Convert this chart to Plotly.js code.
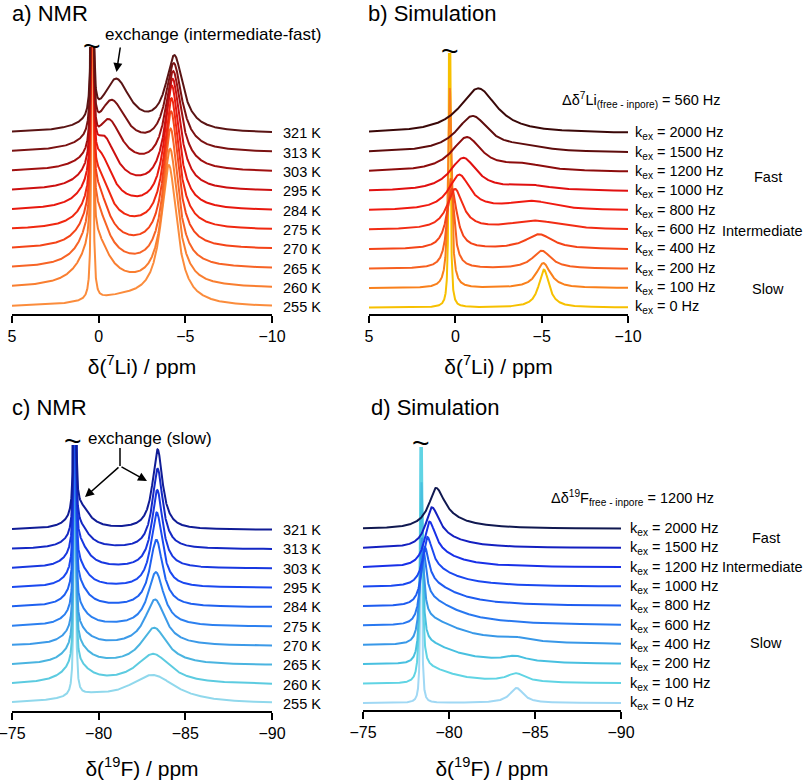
<!DOCTYPE html>
<html>
<head>
<meta charset="utf-8">
<script src="https://cdn.plot.ly/plotly-3.0.1.min.js"></script>
<style>html,body{margin:0;padding:0;background:#fff;}#chart{width:807px;height:780px;}</style>
</head>
<body>
<div id="chart"></div>
<script>
// ---------------- DATA (traces listed top to bottom) ----------------
// Panel a: 7Li NMR, peaks: free (sharp), exchange, in-pore. Heights in stack units (px).
const A_labels   = ['321 K','313 K','303 K','295 K','284 K','275 K','270 K','265 K','260 K','255 K'];
const A_free_pos = [0.37,0.37,0.37,0.37,0.37,0.37,0.37,0.37,0.37,0.37];
const A_free_h   = [600,600,600,600,600,600,600,600,600,600];
const A_free_w   = [0.08,0.08,0.08,0.08,0.08,0.08,0.08,0.08,0.08,0.08];
const A_ex_pos   = [-1.0,-0.75,-0.56,-0.27,-0.08,0.02,0.1,0.15,0.2,-1.5];
const A_ex_h     = [52,50,50,52,53,54,58,58,50,9];
const A_ex_w     = [2.0,2.0,1.9,1.8,1.7,1.6,1.6,1.7,1.9,5.0];
const A_pore_pos = [-4.37,-4.33,-4.3,-4.27,-4.22,-4.2,-4.18,-4.15,-4.12,-4.05];
const A_pore_h   = [74,86,98,110,123,130,136,138,137,138];
const A_pore_w   = [1.2,1.15,1.1,1.05,1.0,1.0,1.0,1.0,1.05,1.1];

// Panel b: 7Li simulation, k_ex values (Hz)
const B_kex      = [2000,1500,1200,1000,800,600,400,200,100,0];
const B_m_pos    = [-1.33,-1.0,-0.66,-0.46,-0.23,0.02,0.2,0.28,0.32,0.33];
const B_m_h      = [45,36,34,33,35,40,60,90,200,500];
const B_m_w      = [2.6,2.3,2.1,1.9,1.5,1.1,0.7,0.45,0.22,0.08];
const B_p_pos    = [-4.0,-4.0,-4.0,-4.3,-4.4,-4.6,-4.85,-5.0,-5.1,-5.13];
const B_p_h      = [0,4,6,5,9,9,15,18,25,38];
const B_p_w      = [3.0,3.0,3.0,3.0,3.2,3.6,1.9,1.3,1.0,0.72];

// Panel c: 19F NMR
const C_labels   = ['321 K','313 K','303 K','295 K','284 K','275 K','270 K','265 K','260 K','255 K'];
const C_free_pos = [-78.62,-78.62,-78.62,-78.62,-78.62,-78.62,-78.62,-78.62,-78.62,-78.62];
const C_free_h   = [600,600,600,600,600,600,600,600,600,600];
const C_free_w   = [0.07,0.07,0.07,0.07,0.07,0.07,0.07,0.07,0.07,0.07];
const C_ex_pos   = [-78.95,-78.9,-78.85,-78.8,-78.78,-78.75,-78.72,-78.7,-78.7,-79.3];
const C_ex_h     = [22,22,25,23,23,19,18,20,19,6];
const C_ex_w     = [1.3,1.3,1.3,1.3,1.3,1.4,1.5,1.6,1.8,3.5];
const C_pore_pos = [-83.4,-83.4,-83.38,-83.35,-83.33,-83.3,-83.25,-83.2,-83.15,-83.1];
const C_pore_h   = [80,80,78,75,67,54,46,37,30,28];
const C_pore_w   = [0.7,0.72,0.75,0.8,0.9,1.1,1.4,1.8,2.4,3.3];

// Panel d: 19F simulation; main line, its upfield tail, in-pore line
const D_kex      = [2000,1500,1200,1000,800,600,400,200,100,0];
const D_m_pos    = [-79.24,-79.0,-78.86,-78.74,-78.6,-78.5,-78.42,-78.4,-78.38,-78.38];
const D_m_h      = [31,29,31,32,36,50,80,160,320,550];
const D_m_w      = [1.2,1.0,0.85,0.7,0.55,0.4,0.28,0.18,0.12,0.06];
const D_t_h      = [10,12,15,18,23,27,27,22,17,0];
const D_t_wl     = [0.6,0.6,0.5,0.5,0.4,0.4,0.3,0.25,0.2,0.2];
const D_t_wr     = [3.6,3.6,3.6,3.8,4.0,4.4,5.0,4.4,4.0,4.0];
const D_p_pos    = [-83.9,-83.9,-83.9,-83.9,-83.9,-83.9,-83.75,-83.85,-83.9,-83.93];
const D_p_h      = [0,0,0,0,0,0,3.5,5.5,8.5,15];
const D_p_w      = [1,1,1,1,1,1,2.0,1.6,1.3,0.95];

const A_colors = ['#5a1414','#7a1212','#a01010','#cc1010','#e8180e','#f02810','#f44418','#f76426','#f97e30','#fb8c3c'];
const B_colors = ['#3a0808','#5e0c0c','#8c0c0c','#e01010','#f01a10','#f22c14','#f44418','#f76020','#f9801c','#f7c000'];
const C_colors = ['#101c96','#1428c4','#1838e0','#1a48f0','#1e60f0','#2c80f0','#3c9ae8','#4ab4e0','#5ccbe0','#90d8ec'];
const D_colors = ['#101850','#1420c0','#1830e8','#1a48f0','#1e5cf0','#2878f0','#3898e8','#48c0e0','#60d4e4','#a0d8f4'];

// ---------------- helpers ----------------
const W = 807, H = 780;
const FONT = 'Liberation Sans, Arial, Helvetica, sans-serif';
const fx = p => p / W;
const fy = p => 1 - p / H;
const STEP = 19.35;

// Lorentzian line, optionally with different widths on the downfield (x>pos) and upfield (x<pos) side
function lor(x, pos, h, wDown, wUp) {
  const fw = (x > pos) ? wDown : wUp;
  const d = (x - pos) / (fw / 2);
  return h / (1 + d * d);
}
function grid(a, b, n) { const g = []; for (let i = 0; i < n; i++) g.push(a + (b - a) * i / (n - 1)); return g; }

// panel geometry in px: left, right, top (clip), bottom (axis line)
const P = {
  a: {l: 12, r: 272, t: 47, b: 314, x0: 5, x1: -10, base0: 6.5},
  b: {l: 369, r: 628, t: 53, b: 314, x0: 5, x1: -10, base0: 6.5},
  c: {l: 12, r: 272, t: 445, b: 711, x0: -75, x1: -90, base0: 7},
  d: {l: 363, r: 621, t: 447, b: 710, x0: -75, x1: -90, base0: 7}
};

const traces = [];
// comps: [posArr, hArr, wDownArr, wUpArr]
function addPanel(key, axSuffix, comps, colors) {
  const g = P[key];
  const xs = grid(g.x0, g.x1, 2400);
  const n = colors.length;
  for (let i = n - 1; i >= 0; i--) {           // bottom trace first, top trace last
    const base = g.base0 + (n - 1 - i) * STEP;
    const ys = xs.map(x => {
      let s = 0;
      comps.forEach(c => { s += lor(x, c[0][i], c[1][i], c[2][i], (c[3] || c[2])[i]); });
      return base + s;
    });
    traces.push({x: xs, y: ys, type: 'scatter', mode: 'lines', xaxis: 'x' + axSuffix, yaxis: 'y' + axSuffix,
      line: {color: colors[i], width: 2}, hoverinfo: 'skip', showlegend: false});
  }
}
addPanel('a', '', [[A_free_pos, A_free_h, A_free_w], [A_ex_pos, A_ex_h, A_ex_w], [A_pore_pos, A_pore_h, A_pore_w]], A_colors);
addPanel('b', '2', [[B_m_pos, B_m_h, B_m_w], [B_p_pos, B_p_h, B_p_w]], B_colors);
addPanel('c', '3', [[C_free_pos, C_free_h, C_free_w], [C_ex_pos, C_ex_h, C_ex_w], [C_pore_pos, C_pore_h, C_pore_w]], C_colors);
addPanel('d', '4', [[D_m_pos, D_m_h, D_m_w], [D_m_pos, D_t_h, D_t_wl, D_t_wr], [D_p_pos, D_p_h, D_p_w]], D_colors);

function xaxis(key, tickvals, title, anchor, standoff) {
  const g = P[key];
  return {domain: [fx(g.l), fx(g.r)], range: [g.x0, g.x1], anchor: anchor,
    tickvals: tickvals, ticks: 'outside', ticklen: 7, tickwidth: 2, tickcolor: '#000',
    showline: true, linewidth: 2, linecolor: '#000', showgrid: false, zeroline: false,
    ticklabeloverflow: 'allow',
    tickfont: {family: FONT, size: 16, color: '#000'},
    title: {text: title, font: {family: FONT, size: 21, color: '#000'}, standoff: standoff}};
}
function yaxis(key, anchor) {
  const g = P[key];
  return {domain: [fy(g.b), fy(g.t)], range: [0, g.b - g.t], anchor: anchor, visible: false, fixedrange: true};
}

const ann = [];
function txt(x, y, text, size, xanchor, extra) {
  ann.push(Object.assign({xref: 'paper', yref: 'paper', x: fx(x), y: fy(y), text: text, showarrow: false,
    xanchor: xanchor || 'left', yanchor: 'middle', font: {family: FONT, size: size, color: '#000'}}, extra || {}));
}
// panel titles
txt(10, 13, 'a) NMR', 22);
txt(366, 13, 'b) Simulation', 22);
txt(10, 407, 'c) NMR', 22);
txt(369, 407, 'd) Simulation', 22);

// stack labels
function stackLabels(key, labels, xLeft) {
  const g = P[key];
  const n = labels.length;
  labels.forEach((lab, i) => {
    const base = g.base0 + (n - 1 - i) * STEP;
    txt(xLeft, g.b - base, lab, 14.5);
  });
}
stackLabels('a', A_labels, 281);
stackLabels('b', B_kex.map(k => 'k<sub>ex</sub> = ' + k + ' Hz'), 633);
stackLabels('c', C_labels, 281);
stackLabels('d', D_kex.map(k => 'k<sub>ex</sub> = ' + k + ' Hz'), 628);

txt(723, 100, 'Δδ<sup>7</sup>Li<sub>(free - inpore)</sub> = 560 Hz', 14.5, 'right');
txt(716, 498, 'Δδ<sup>19</sup>F<sub>free - inpore</sub> = 1200 Hz', 14.5, 'right');
txt(752, 177, 'Fast', 14.5);
txt(805, 231, 'Intermediate', 14.5, 'right');
txt(750, 289, 'Slow', 14.5);
txt(750, 538, 'Fast', 14.5);
txt(805, 567, 'Intermediate', 14.5, 'right');
txt(748, 643, 'Slow', 14.5);

// break marks on clipped peaks
const tilde = {font: {family: FONT, size: 30, color: '#000'}};
txt(92, 45, '~', 30, 'center', tilde);
txt(450, 51, '~', 30, 'center', tilde);
txt(72.5, 440, '~', 30, 'center', tilde);
txt(421.5, 442, '~', 30, 'center', tilde);

// exchange annotations
txt(213, 35, 'exchange (intermediate-fast)', 17, 'center');
ann.push({xref: 'paper', yref: 'paper', x: fx(116.5), y: fy(72), ax: 4, ay: -26,
  showarrow: true, arrowhead: 2, arrowsize: 1.2, arrowwidth: 1.5, arrowcolor: '#000', text: ''});
txt(150, 438, 'exchange (slow)', 17, 'center');
ann.push({xref: 'paper', yref: 'paper', x: fx(85), y: fy(497), ax: 35, ay: -31,
  showarrow: true, arrowhead: 2, arrowsize: 1.2, arrowwidth: 1.5, arrowcolor: '#000', text: ''});
ann.push({xref: 'paper', yref: 'paper', x: fx(147), y: fy(481), ax: -27, ay: -15,
  showarrow: true, arrowhead: 2, arrowsize: 1.2, arrowwidth: 1.5, arrowcolor: '#000', text: ''});

const shapes = [{type: 'line', xref: 'paper', yref: 'paper', x0: fx(120), x1: fx(120), y0: fy(448), y1: fy(466),
  line: {color: '#000', width: 1.5}}];

const layout = {
  width: W, height: H, margin: {l: 0, r: 0, t: 0, b: 0}, paper_bgcolor: '#fff', plot_bgcolor: 'rgba(0,0,0,0)',
  showlegend: false, font: {family: FONT, color: '#000'},
  xaxis: xaxis('a', [5, 0, -5, -10], 'δ(<sup>7</sup>Li) / ppm', 'y', 15),
  yaxis: yaxis('a', 'x'),
  xaxis2: xaxis('b', [5, 0, -5, -10], 'δ(<sup>7</sup>Li) / ppm', 'y2', 15),
  yaxis2: yaxis('b', 'x2'),
  xaxis3: xaxis('c', [-75, -80, -85, -90], 'δ(<sup>19</sup>F) / ppm', 'y3', 22),
  yaxis3: yaxis('c', 'x3'),
  xaxis4: xaxis('d', [-75, -80, -85, -90], 'δ(<sup>19</sup>F) / ppm', 'y4', 22),
  yaxis4: yaxis('d', 'x4'),
  annotations: ann, shapes: shapes
};
Plotly.newPlot('chart', traces, layout, {staticPlot: true, displayModeBar: false});
</script>
</body>
</html>
